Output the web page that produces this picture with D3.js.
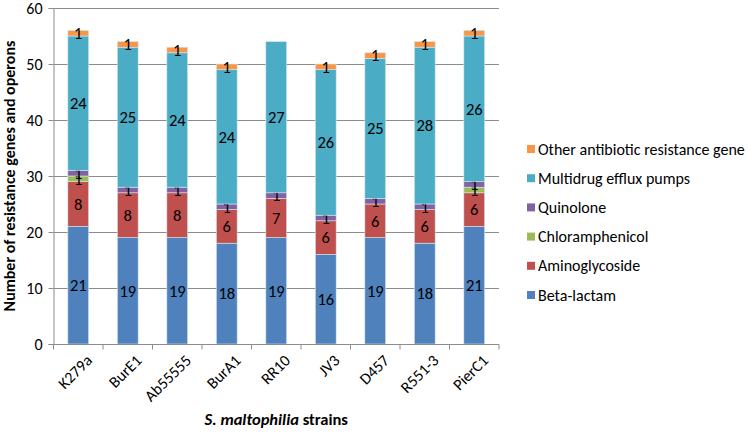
<!DOCTYPE html>
<html>
<head>
<meta charset="utf-8">
<script src="https://cdn.jsdelivr.net/npm/d3@7"></script>
<style>
body { margin: 0; background: #fff; }
text { font-family: Carlito, Lato, "Liberation Sans", sans-serif; }
</style>
</head>
<body>
<script>
var width = 750;
var height = 435;

var strains = ['K279a', 'BurE1', 'Ab55555', 'BurA1', 'RR10', 'JV3', 'D457', 'R551-3', 'PierC1'];
var seriesNames = ['Beta-lactam', 'Aminoglycoside', 'Chloramphenicol', 'Quinolone',
    'Multidrug efflux pumps', 'Other antibiotic resistance gene'];

var betaLactam      = [21, 19, 19, 18, 19, 16, 19, 18, 21];
var aminoglycoside  = [8, 8, 8, 6, 7, 6, 6, 6, 6];
var chloramphenicol = [1, 0, 0, 0, 0, 0, 0, 0, 1];
var quinolone       = [1, 1, 1, 1, 1, 1, 1, 1, 1];
var multidrug       = [24, 25, 24, 24, 27, 26, 25, 28, 26];
var other           = [1, 1, 1, 1, 0, 1, 1, 1, 1];

var yTicks = [0, 10, 20, 30, 40, 50, 60];

var colors = ['#4f81bd', '#c0504d', '#9bbb59', '#8064a2', '#4bacc6', '#f79646'];

var seriesValues = [betaLactam, aminoglycoside, chloramphenicol, quinolone, multidrug, other];
var keys = seriesNames;

var table = strains.map(function(s, i) {
    var row = { strain: s };
    keys.forEach(function(k, j) { row[k] = seriesValues[j][i]; });
    return row;
});

var stacked = d3.stack().keys(keys)(table);

var margin = { top: 8, left: 53.5, right: 251, bottom: 91 };

var x = d3.scaleBand()
    .domain(strains)
    .range([margin.left, width - margin.right])
    .paddingInner(0.58)
    .paddingOuter(0.29);

var xTick = d3.scaleBand()
    .domain(strains)
    .range([margin.left, width - margin.right]);

var y = d3.scaleLinear()
    .domain([0, 60])
    .range([height - margin.bottom, margin.top]);

var svg = d3.select('body')
    .append('svg')
    .attr('width', width)
    .attr('height', height);

// gridlines
svg.append('g')
    .selectAll('line')
    .data(yTicks.slice(1))
    .enter()
    .append('line')
    .attr('x1', margin.left)
    .attr('x2', width - margin.right)
    .attr('y1', function(d) { return Math.round(y(d)) + 0.5; })
    .attr('y2', function(d) { return Math.round(y(d)) + 0.5; })
    .attr('stroke', '#8c8c8c')
    .attr('stroke-width', 1);

// bars
var layers = svg.append('g')
    .selectAll('g')
    .data(stacked)
    .enter()
    .append('g')
    .attr('fill', function(d, i) { return colors[i]; });

layers.selectAll('rect')
    .data(function(d) { return d; })
    .enter()
    .append('rect')
    .filter(function(d) { return d[1] > d[0]; })
    .attr('x', function(d) { return x(d.data.strain); })
    .attr('width', x.bandwidth())
    .attr('y', function(d) { return y(d[1]); })
    .attr('height', function(d) { return y(d[0]) - y(d[1]); })
    .attr('stroke', '#d6e6f2')
    .attr('stroke-width', 0.6);

// data labels
layers.selectAll('text')
    .data(function(d) { return d; })
    .enter()
    .append('text')
    .filter(function(d) { return d[1] > d[0]; })
    .attr('x', function(d) { return x(d.data.strain) + x.bandwidth() / 2; })
    .attr('y', function(d) { return (y(d[0]) + y(d[1])) / 2; })
    .attr('dy', '0.35em')
    .attr('text-anchor', 'middle')
    .attr('fill', '#000')
    .style('font-size', '16.5px')
    .text(function(d) { return d[1] - d[0]; });

// y axis
var yAxis = svg.append('g')
    .attr('transform', 'translate(' + (margin.left) + ',0)')
    .call(d3.axisLeft(y).tickValues(yTicks).tickSize(5).tickPadding(6));
yAxis.select('.domain').attr('stroke', '#8c8c8c');
yAxis.selectAll('.tick line').attr('stroke', '#8c8c8c');
yAxis.selectAll('.tick text')
    .style('font-size', '16px')
    .attr('fill', '#000');

// x axis
var xAxis = svg.append('g')
    .attr('transform', 'translate(0,' + (Math.round(y(0)) + 0.5) + ')');
xAxis.append('line')
    .attr('x1', margin.left)
    .attr('x2', width - margin.right)
    .attr('stroke', '#8c8c8c');
xAxis.selectAll('.tk')
    .data(strains.concat(['end']))
    .enter()
    .append('line')
    .attr('x1', function(d, i) { return margin.left + i * xTick.bandwidth(); })
    .attr('x2', function(d, i) { return margin.left + i * xTick.bandwidth(); })
    .attr('y1', 0)
    .attr('y2', 5)
    .attr('stroke', '#8c8c8c');
xAxis.selectAll('.lbl')
    .data(strains)
    .enter()
    .append('text')
    .attr('transform', function(d) {
        return 'translate(' + (x(d) + x.bandwidth() / 2 + 7) + ',9) rotate(-45)';
    })
    .attr('text-anchor', 'end')
    .attr('dy', '0.7em')
    .style('font-size', '16px')
    .attr('fill', '#000')
    .text(function(d) { return d; });

// axis titles
svg.append('text')
    .attr('transform', 'translate(15,' + ((margin.top + y(0)) / 2) + ') rotate(-90)')
    .attr('text-anchor', 'middle')
    .style('font-size', '16px')
    .style('font-weight', 'bold')
    .text('Number of resistance genes and operons');

var xTitle = svg.append('text')
    .attr('x', (margin.left + width - margin.right) / 2)
    .attr('y', 425)
    .attr('text-anchor', 'middle')
    .style('font-size', '16.5px')
    .style('font-weight', 'bold');
xTitle.append('tspan').style('font-style', 'italic').text('S. maltophilia');
xTitle.append('tspan').text(' strains');

// legend
var legend = svg.append('g')
    .selectAll('g')
    .data(seriesNames.slice().reverse())
    .enter()
    .append('g')
    .attr('transform', function(d, i) { return 'translate(527,' + (149 + i * 29.2) + ')'; });

legend.append('rect')
    .attr('x', 0)
    .attr('y', -4)
    .attr('width', 8)
    .attr('height', 8)
    .attr('fill', function(d, i) { return colors[colors.length - 1 - i]; });

legend.append('text')
    .attr('x', 11)
    .attr('dy', '0.35em')
    .style('font-size', '16px')
    .attr('fill', '#000')
    .text(function(d) { return d; });
</script>
</body>
</html>
